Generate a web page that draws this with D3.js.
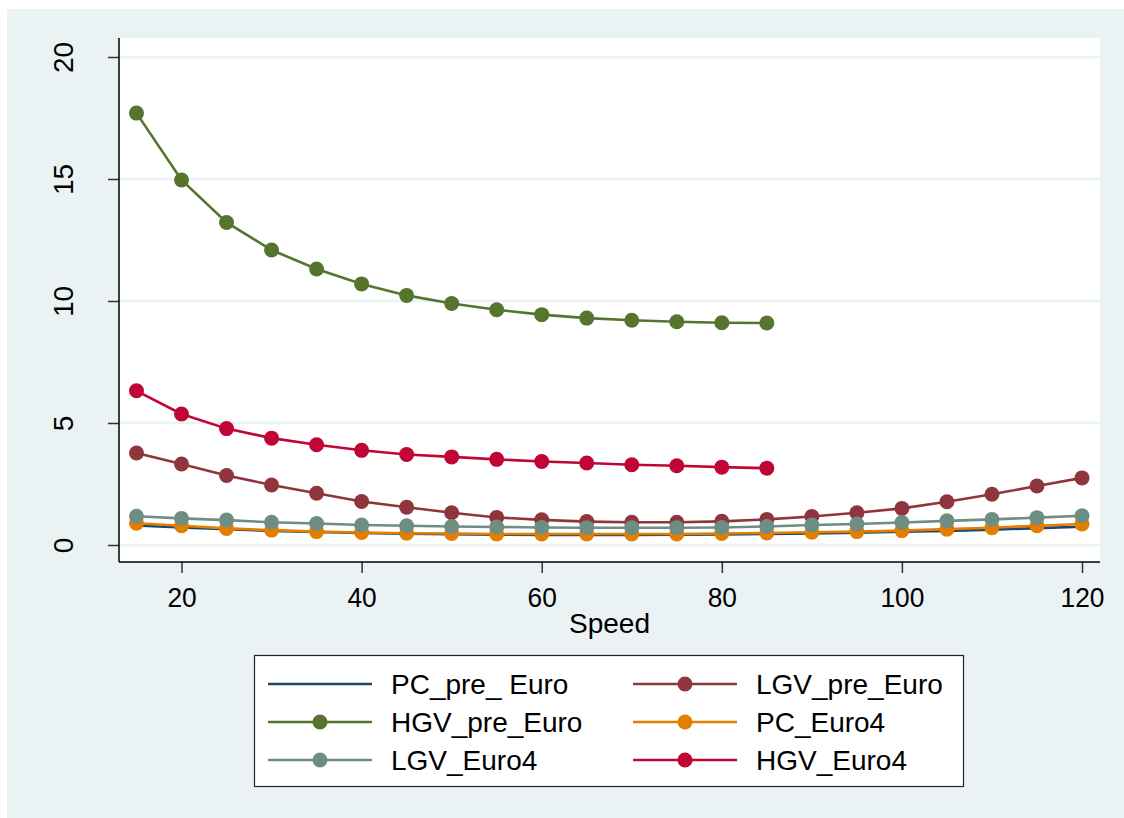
<!DOCTYPE html>
<html>
<head>
<meta charset="utf-8">
<script src="https://cdn.jsdelivr.net/npm/d3@7"></script>
<style>
	body{ margin:0; background:#FFF; }
	text{ font-family:"Liberation Sans", Arial, sans-serif; fill:#000; }
</style>
</head>
<body>
<div id="chart"></div>
<script>

const speeds = [15,20,25,30,35,40,45,50,55,60,65,70,75,80,85,90,95,100,105,110,115,120];
const speedsHGV = speeds.slice(0, 15); //HGV series stop at 85

const pcPreEuro  = [0.80,0.72,0.65,0.58,0.53,0.49,0.46,0.44,0.42,0.41,0.41,0.41,0.42,0.43,0.45,0.47,0.50,0.54,0.58,0.63,0.69,0.75];
const lgvPreEuro = [3.77,3.32,2.85,2.46,2.12,1.78,1.55,1.32,1.13,1.03,0.96,0.93,0.93,0.97,1.05,1.17,1.32,1.50,1.77,2.08,2.42,2.75];
const hgvPreEuro = [17.70,14.96,13.22,12.09,11.31,10.70,10.23,9.90,9.64,9.44,9.30,9.21,9.15,9.11,9.10];
const pcEuro4    = [0.89,0.79,0.68,0.61,0.55,0.51,0.48,0.47,0.45,0.45,0.45,0.45,0.45,0.47,0.49,0.52,0.55,0.59,0.65,0.71,0.79,0.86];
const lgvEuro4   = [1.18,1.09,1.02,0.93,0.88,0.82,0.79,0.76,0.74,0.72,0.71,0.71,0.71,0.72,0.76,0.82,0.86,0.92,0.99,1.05,1.12,1.20];
const hgvEuro4   = [6.32,5.37,4.77,4.38,4.11,3.88,3.71,3.61,3.51,3.42,3.36,3.29,3.25,3.19,3.15];

const yTicks = [0,5,10,15,20];
const xTicks = [20,40,60,80,100,120];

const seriesNames  = ["PC_pre_ Euro","LGV_pre_Euro","HGV_pre_Euro","PC_Euro4","LGV_Euro4","HGV_Euro4"];
const seriesValues = [pcPreEuro, lgvPreEuro, hgvPreEuro, pcEuro4, lgvEuro4, hgvEuro4];
const seriesX      = [speeds, speeds, speedsHGV, speeds, speeds, speedsHGV];
const seriesColors = ["#1a476f","#90353b","#55752f","#e37e00","#6e8e84","#c10534"];
const seriesMarker = [false, true, true, true, true, true];

const frame = { width:1124, height:818 };
const plot = { left:119, top:38, right:1100, bottom:562 };

let svg = d3.select("#chart").append("svg")
	.attr("width", frame.width)
	.attr("height", frame.height);

// outer background (small white strip top/left like the export)
svg.append("rect")
	.attr("x", 7).attr("y", 9)
	.attr("width", frame.width - 7).attr("height", frame.height - 9)
	.attr("fill", "#eaf2f3");

svg.append("rect")
	.attr("x", plot.left).attr("y", plot.top)
	.attr("width", plot.right - plot.left).attr("height", plot.bottom - plot.top)
	.attr("fill", "#FFF");

let x = d3.scaleLinear().domain([15, 120]).range([136.5, 1082]);
let y = d3.scaleLinear().domain([0, 20]).range([545, 57]);

// gridlines
svg.append("g").selectAll("line")
	.data(yTicks)
	.join("line")
	.attr("x1", plot.left).attr("x2", plot.right)
	.attr("y1", d => y(d)).attr("y2", d => y(d))
	.attr("stroke", "#eaf2f3")
	.attr("stroke-width", 2.5);

// y axis
let yAxis = svg.append("g")
	.attr("transform", `translate(${plot.left},0)`)
	.call(d3.axisLeft(y).tickValues(yTicks).tickSize(11).tickSizeOuter(0).tickFormat(d3.format("d")));
yAxis.select(".domain").remove();
yAxis.append("line")
	.attr("x1", 0).attr("x2", 0)
	.attr("y1", plot.top).attr("y2", plot.bottom)
	.attr("stroke", "#000").attr("stroke-width", 1.5);
yAxis.selectAll(".tick line").attr("stroke", "#333").attr("stroke-width", 1.5);
yAxis.selectAll(".tick text")
	.attr("font-size", 28)
	.attr("font-family", "Liberation Sans, Arial, sans-serif")
	.attr("text-anchor", "middle")
	.attr("x", null).attr("dy", null)
	.attr("transform", "translate(-46,0) rotate(-90)")
	.attr("y", 0)
	.attr("dy", "0");

// x axis
let xAxis = svg.append("g")
	.attr("transform", `translate(0,${plot.bottom})`)
	.call(d3.axisBottom(x).tickValues(xTicks).tickSize(11).tickSizeOuter(0));
xAxis.select(".domain").remove();
xAxis.append("line")
	.attr("x1", plot.left).attr("x2", plot.right)
	.attr("y1", 0).attr("y2", 0)
	.attr("stroke", "#000").attr("stroke-width", 1.5);
xAxis.selectAll(".tick line").attr("stroke", "#333").attr("stroke-width", 1.5);
xAxis.selectAll(".tick text")
	.attr("font-size", 28)
	.attr("font-family", "Liberation Sans, Arial, sans-serif")
	.attr("y", 0).attr("dy", null)
	.attr("transform", "translate(0,45) scale(0.94,1)");
xAxis.selectAll(".tick text")
	.attr("x", function(){ return 0; });

svg.append("text")
	.attr("x", (plot.left + plot.right) / 2)
	.attr("y", 633)
	.attr("text-anchor", "middle")
	.attr("font-size", 28)
	.text("Speed");

// series
let line = d3.line();
seriesValues.forEach((vals, i) => {
	let pts = vals.map((v, j) => [x(seriesX[i][j]), y(v)]);
	let g = svg.append("g");
	g.append("path")
		.attr("d", line(pts))
		.attr("fill", "none")
		.attr("stroke", seriesColors[i])
		.attr("stroke-width", 2.6);
	if(seriesMarker[i]){
		g.selectAll("circle")
			.data(pts)
			.join("circle")
			.attr("cx", d => d[0])
			.attr("cy", d => d[1])
			.attr("r", 7.5)
			.attr("fill", seriesColors[i]);
	}
});

// legend
let legend = svg.append("g");
legend.append("rect")
	.attr("x", 254.5).attr("y", 655.5)
	.attr("width", 709).attr("height", 131)
	.attr("fill", "#FFF")
	.attr("stroke", "#222")
	.attr("stroke-width", 1.2);

seriesNames.forEach((name, i) => {
	let col = i % 2;
	let row = Math.floor(i / 2);
	let lx = col == 0 ? 268 : 633;
	let cy = 684 + row * 38;
	legend.append("line")
		.attr("x1", lx).attr("x2", lx + 104)
		.attr("y1", cy).attr("y2", cy)
		.attr("stroke", seriesColors[i])
		.attr("stroke-width", 2.6);
	if(seriesMarker[i]){
		legend.append("circle")
			.attr("cx", lx + 52).attr("cy", cy)
			.attr("r", 7.5)
			.attr("fill", seriesColors[i]);
	}
	legend.append("text")
		.attr("x", lx + 123)
		.attr("y", cy + 9.5)
		.attr("font-size", 28)
		.text(name);
});

</script>
</body>
</html>
